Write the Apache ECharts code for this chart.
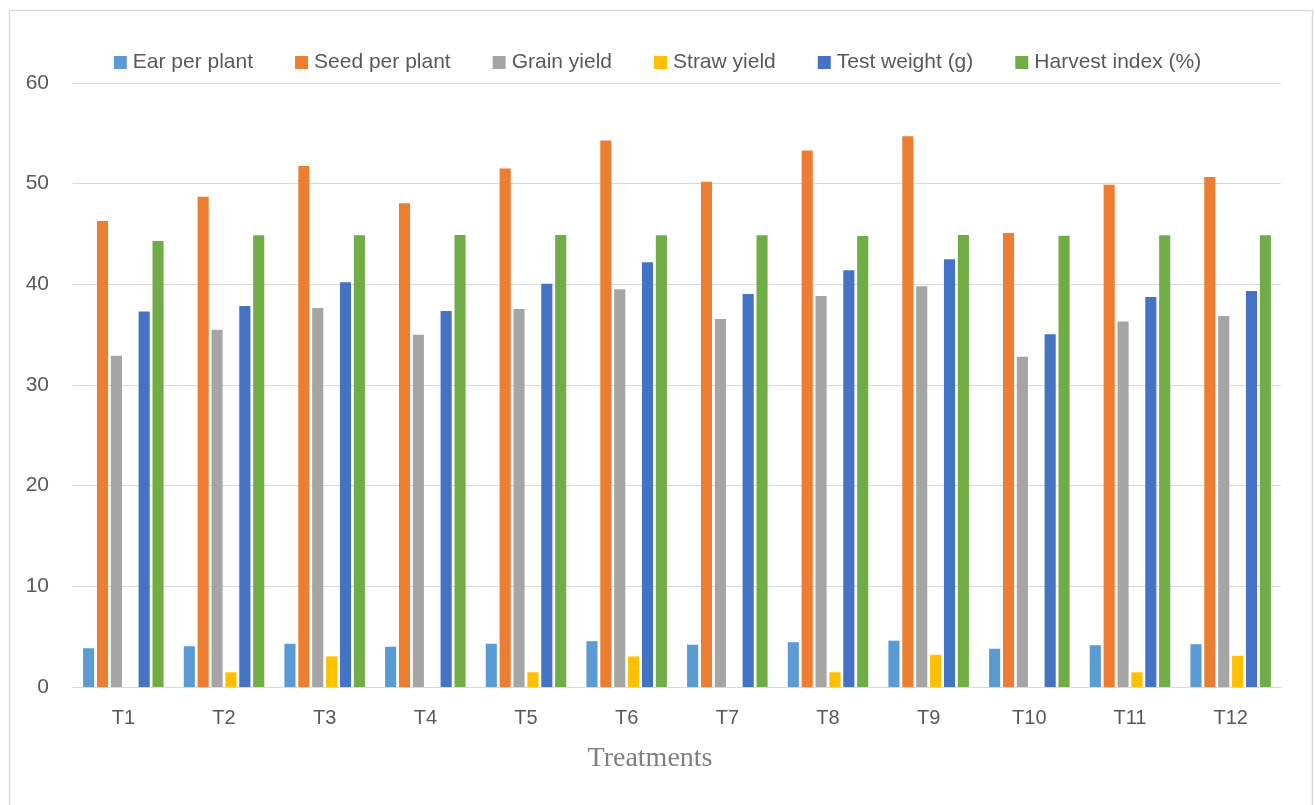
<!DOCTYPE html>
<html>
<head>
<meta charset="utf-8">
<script src="https://cdn.jsdelivr.net/npm/echarts@6/dist/echarts.min.js"></script>
<style>
  html, body { margin: 0; padding: 0; background: #fff; }
  #chart { width: 1315px; height: 805px; }
</style>
</head>
<body>
<div id="chart"></div>
<script>
// Treatment labels on the category axis
const categories = ['T1','T2','T3','T4','T5','T6','T7','T8','T9','T10','T11','T12'];

// Measured traits per treatment
const earPerPlant   = [3.85, 4.05, 4.3, 4.0, 4.3, 4.55, 4.2, 4.45, 4.6, 3.8, 4.15, 4.25];
const seedPerPlant  = [46.3, 48.7, 51.75, 48.05, 51.5, 54.3, 50.2, 53.3, 54.7, 45.1, 49.9, 50.65];
const grainYield    = [32.9, 35.5, 37.65, 35.0, 37.55, 39.5, 36.55, 38.85, 39.8, 32.8, 36.3, 36.85];
const strawYield    = [0, 1.46, 3.04, 0, 1.46, 3.03, 0, 1.46, 3.2, 0, 1.46, 3.1];
const testWeight    = [37.3, 37.85, 40.2, 37.35, 40.05, 42.2, 39.05, 41.4, 42.5, 35.05, 38.75, 39.35];
const harvestIndex  = [44.3, 44.87, 44.87, 44.9, 44.9, 44.87, 44.87, 44.8, 44.9, 44.83, 44.87, 44.87];

// Value axis ticks
const yMin = 0, yMax = 60, yStep = 10;

const seriesDefs = [
  { name: 'Ear per plant',       data: earPerPlant,  color: '#5B9BD5' },
  { name: 'Seed per plant',      data: seedPerPlant, color: '#ED7D31' },
  { name: 'Grain yield',         data: grainYield,   color: '#A5A5A5' },
  { name: 'Straw yield',         data: strawYield,   color: '#FFC000' },
  { name: 'Test weight (g)',     data: testWeight,   color: '#4472C4' },
  { name: 'Harvest index (%)',   data: harvestIndex, color: '#70AD47' }
];

const chart = echarts.init(document.getElementById('chart'), null, { renderer: 'canvas' });

const textColor = '#595959';
const fontFamily = '"Liberation Sans", Arial, sans-serif';

chart.setOption({
  animation: false,
  backgroundColor: '#ffffff',
  // chart-area frame (its bottom edge runs past the canvas)
  graphic: [{
    type: 'rect',
    left: 7, top: 8,
    shape: { width: 1303, height: 820 },
    style: { fill: 'none', stroke: '#d9d9d9', lineWidth: 1.5 },
    silent: true
  }],
  legend: {
    top: 47,
    left: 'center',
    itemWidth: 13,
    itemHeight: 13,
    itemGap: 42,
    icon: 'rect',
    textStyle: { color: textColor, fontSize: 21, fontFamily: fontFamily, padding: [0, 0, 0, 1] },
    data: seriesDefs.map(s => s.name)
  },
  grid: { left: 73, right: 34, top: 83, bottom: 118, containLabel: false },
  xAxis: {
    type: 'category',
    data: categories,
    name: 'Treatments',
    nameLocation: 'middle',
    nameGap: 58,
    nameTextStyle: {
      color: '#7f7f7f', fontSize: 28,
      fontFamily: '"Liberation Serif", "Times New Roman", serif',
      padding: [0, 54, 0, 0]
    },
    axisLine: { lineStyle: { color: '#d9d9d9', width: 1 } },
    axisTick: { show: false },
    axisLabel: { color: textColor, fontSize: 20, fontFamily: fontFamily, margin: 21 }
  },
  yAxis: {
    type: 'value',
    min: yMin, max: yMax, interval: yStep,
    axisLine: { show: false },
    axisTick: { show: false },
    axisLabel: { color: textColor, fontSize: 21, fontFamily: fontFamily, margin: 24 },
    splitLine: { lineStyle: { color: '#d9d9d9', width: 1 } }
  },
  series: seriesDefs.map(s => ({
    name: s.name,
    type: 'bar',
    data: s.data,
    barGap: '25%',
    barCategoryGap: '20%',
    itemStyle: { color: s.color }
  }))
});
</script>
</body>
</html>
